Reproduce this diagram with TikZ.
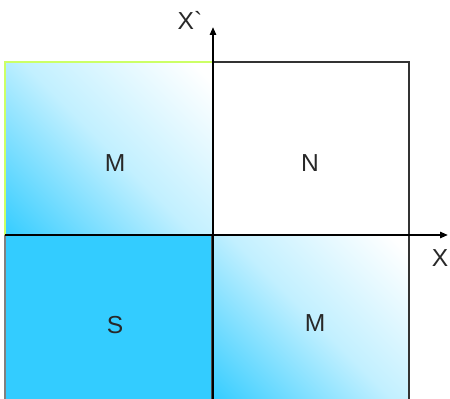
\documentclass[tikz,border=0pt]{standalone}
\usepackage{fontspec}
\setmainfont{Liberation Sans}
\usetikzlibrary{arrows.meta}
\definecolor{skyBlue}{RGB}{51,204,255}
\definecolor{limeEdge}{RGB}{204,255,102}
\definecolor{labelGray}{RGB}{40,40,40}
\pgfdeclareverticalshading{quadfade}{100bp}{color(0bp)=(skyBlue); color(14bp)=(skyBlue); color(50bp)=(skyBlue!30!white); color(82bp)=(white); color(100bp)=(white)}

\begin{document}
\begin{tikzpicture}[x=0.02cm, y=0.02cm,
    quadlabel/.style={font=\fontsize{14}{16}\selectfont, text=labelGray},
    fadebox/.style={shading=quadfade, shading angle=-45},
    axis/.style={line width=1.2pt, -{Triangle[length=4.5pt, width=3.5pt]}}]
    \useasboundingbox (0,0) rectangle (450,399);
    \coordinate (A) at (5,337);
    \coordinate (B) at (212,337);
    \coordinate (C) at (409,337);
    \coordinate (D) at (5,164);
    \coordinate (O) at (212,164);
    \coordinate (E) at (409,164);
    \coordinate (F) at (5,0);
    \coordinate (G) at (212,0);
    \coordinate (H) at (409,0);
    % quadrants
    \shade[fadebox] (D) rectangle (B);
    \shade[fadebox] (G) rectangle (E);
    \fill[skyBlue] (F) rectangle (O);
    \draw[limeEdge, line width=0.6pt] (D) -- (A) -- (B);
    \draw[black!80, line width=0.6pt] (B) -- (C) -- (E);
    \draw[black!80, line width=0.6pt] (E) -- (H);
    \draw[black!50, line width=0.6pt] (D) -- (F);
    \draw[black!70, line width=0.6pt] (O) -- (G);
    % axes
    \coordinate (Xend) at (448,164);
    \coordinate (Yend) at (213,372);
    \draw[axis] (D) -- (Xend);
    \draw[axis] (213,0) -- (Yend);
    \node[quadlabel] (m1) at (115,236) {M};
    \node[quadlabel] (n) at (310,236) {N};
    \node[quadlabel] (s) at (115,74) {S};
    \node[quadlabel] (m2) at (315,76) {M};
    \node[quadlabel] (xlab) at (440,141) {X};
    \node[quadlabel] (ylab) at (190,379) {X\textasciigrave};
\end{tikzpicture}
\end{document}
